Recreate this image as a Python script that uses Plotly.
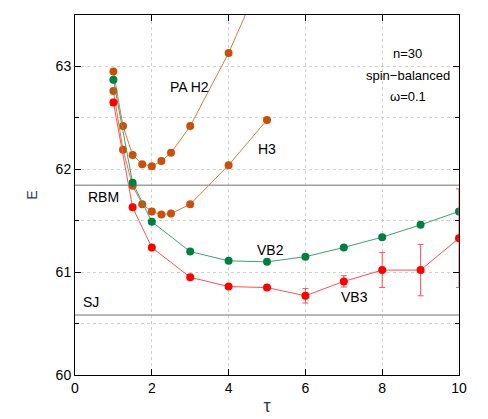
import plotly.graph_objects as go

# tau grids
tau_pa = [1, 1.25, 1.5, 1.75, 2, 2.25, 2.5, 3, 4, 5]
tau_vb = [1, 1.5, 2, 3, 4, 5, 6, 7, 8, 9, 10]

# energies
e_pa_h2 = [62.95, 62.42, 62.14, 62.05, 62.03, 62.08, 62.16, 62.42, 63.13, 63.98]
e_h3 = [62.76, 62.19, 61.84, 61.66, 61.59, 61.56, 61.57, 61.66, 62.04, 62.48]
err_h3 = [0, 0, 0, 0, 0, 0, 0, 0, 0, 0.02]
e_vb2 = [62.87, 61.87, 61.49, 61.20, 61.11, 61.10, 61.15, 61.24, 61.34, 61.46, 61.59]
e_vb3 = [62.65, 61.63, 61.24, 60.95, 60.86, 60.85, 60.77, 60.91, 61.02, 61.02, 61.33]
err_vb3 = [0.03, 0, 0, 0, 0, 0.02, 0.07, 0.055, 0.17, 0.25, 0.48]

e_rbm = 61.845
e_sj = 60.583

orange = "#c8500a"
green = "#008040"
red = "#ff0000"
font_name = "Liberation Sans, Arial, sans-serif"

fig = go.Figure()

# horizontal reference levels
for lvl in [e_rbm, e_sj]:
    fig.add_trace(go.Scatter(x=[0, 10], y=[lvl, lvl], mode="lines",
                             line=dict(color="#a0a0a0", width=1.5), hoverinfo="skip"))

fig.add_trace(go.Scatter(x=tau_pa, y=e_pa_h2, mode="lines+markers",
                         line=dict(color="#e07840", width=1),
                         marker=dict(color=orange, size=8)))
fig.add_trace(go.Scatter(x=tau_pa, y=e_h3, mode="lines+markers",
                         line=dict(color="#e07840", width=1),
                         marker=dict(color=orange, size=8),
                         error_y=dict(type="data", array=err_h3, color="#e07840",
                                      thickness=1, width=3)))
fig.add_trace(go.Scatter(x=tau_vb, y=e_vb2, mode="lines+markers",
                         line=dict(color="#40a070", width=1),
                         marker=dict(color=green, size=8)))
fig.add_trace(go.Scatter(x=tau_vb, y=e_vb3, mode="lines+markers",
                         line=dict(color="#ff5050", width=1),
                         marker=dict(color=red, size=8),
                         error_y=dict(type="data", array=err_vb3, color="#ff5050",
                                      thickness=1, width=3)))

labels = [
    (2.99, 62.80, "PA H2"),
    (5.0, 62.20, "H3"),
    (0.73, 61.73, "RBM"),
    (0.42, 60.71, "SJ"),
    (5.1, 61.22, "VB2"),
    (7.29, 60.76, "VB3"),
]
for x, y, t in labels:
    fig.add_annotation(x=x, y=y, text=t, showarrow=False,
                       font=dict(family=font_name, size=14, color="black"))

for yy, t in [(63.13, "n=30"), (62.91, "spin\u2212balanced"), (62.71, "\u03c9=0.1")]:
    fig.add_annotation(x=8.67, y=yy, text=t, showarrow=False,
                       font=dict(family=font_name, size=13, color="black"))

axis_common = dict(showline=True, linecolor="black", linewidth=1, mirror="allticks",
                   ticks="inside", ticklen=6, tickcolor="black",
                   showgrid=True, gridcolor="#d0d0d0", griddash="dot", gridwidth=1,
                   zeroline=False,
                   tickfont=dict(family=font_name, size=14, color="black"))

fig.update_xaxes(range=[0, 10], dtick=2,
                 title=dict(text="\u03c4", standoff=4, font=dict(family=font_name, size=18)),
                 **axis_common)
fig.update_yaxes(range=[60, 63.5], tickvals=[60, 61, 62, 63],
                 minor=dict(tickvals=[60.5, 61.5, 62.5, 63.5], ticks="inside", ticklen=4,
                            tickcolor="black", showgrid=True, gridcolor="#d0d0d0", griddash="dot"),
                 title=dict(text="E", standoff=14, font=dict(family=font_name, size=14)),
                 **axis_common)

# page body adds an 8px offset, margins compensate
fig.update_layout(width=488, height=419, showlegend=False,
                  plot_bgcolor="white", paper_bgcolor="white",
                  margin=dict(l=67, r=37, t=7, b=52))

fig.write_html("out.html")
